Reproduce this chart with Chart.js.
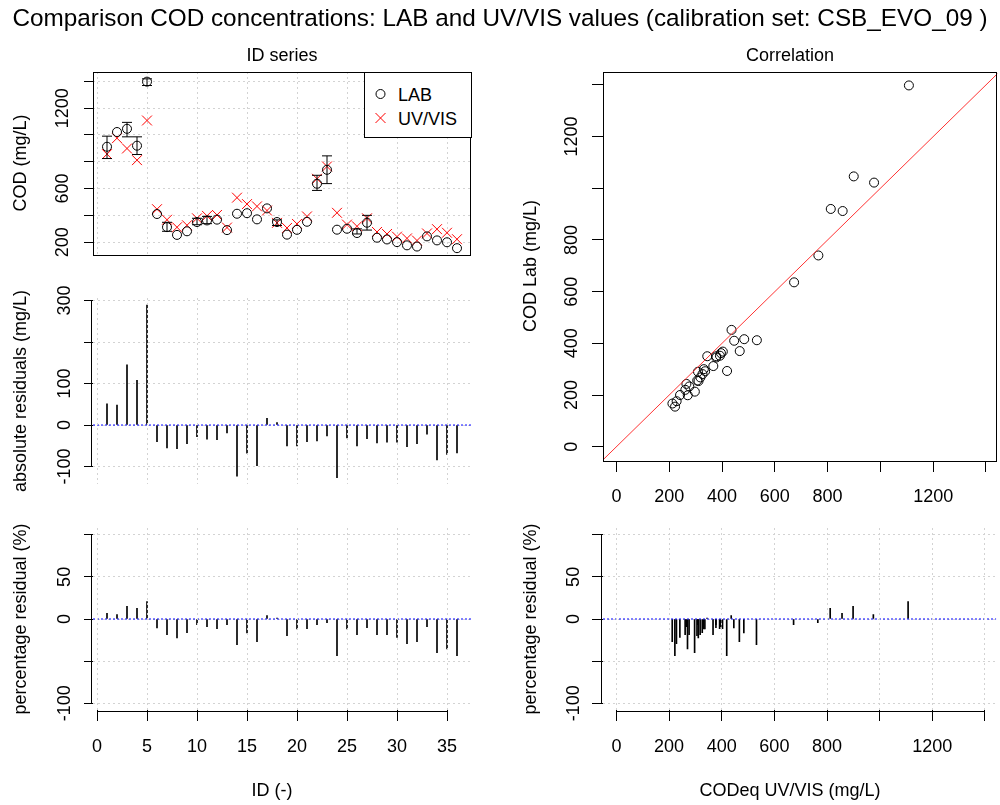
<!DOCTYPE html>
<html><head><meta charset="utf-8">
<script src="https://cdn.jsdelivr.net/npm/chart.js@4.4.1/dist/chart.umd.min.js"></script>
<style>
html,body{margin:0;padding:0;background:#fff;}
#wrap{position:relative;width:1000px;height:805px;overflow:hidden;font-family:"Liberation Sans",Arial,sans-serif;background:#fff;}
canvas{position:absolute;left:0;top:0;}
.t{position:absolute;white-space:nowrap;color:#000;font-size:18px;line-height:1;transform:translate(-50%,-50%);}
.r{transform:translate(-50%,-50%) rotate(-90deg);}
#legend{position:absolute;left:364px;top:72px;width:106px;height:64px;border:1px solid #000;background:#fff;box-sizing:content-box;}
#legend svg{position:absolute;left:0;top:0;}
#legend .lt{position:absolute;left:33px;font-size:18px;line-height:1;transform:translateY(-50%);white-space:nowrap;color:#000;}
</style></head><body>
<div id="wrap">
<canvas id="cA" width="1000" height="805"></canvas>
<canvas id="cB" width="1000" height="805"></canvas>
<canvas id="cC" width="1000" height="805"></canvas>
<canvas id="cD" width="1000" height="805"></canvas>
<canvas id="cE" width="1000" height="805"></canvas>
<div id="legend">
  <svg width="106" height="64" xmlns="http://www.w3.org/2000/svg">
    <circle cx="15.5" cy="21" r="4.5" fill="none" stroke="#000" stroke-width="1"/>
    <line x1="10.5" y1="40" x2="20.5" y2="50" stroke="#ff0000" stroke-width="1"/>
    <line x1="10.5" y1="50" x2="20.5" y2="40" stroke="#ff0000" stroke-width="1"/>
  </svg>
  <span class="lt" style="top:22px;">LAB</span>
  <span class="lt" style="top:46px;">UV/VIS</span>
</div>
<div class="t" style="left:500px;top:18px;font-size:24.3px;">Comparison COD concentrations: LAB and UV/VIS values (calibration set: CSB_EVO_09 )</div>
<div class="t" style="left:282px;top:55px;">ID series</div>
<div class="t" style="left:790px;top:55px;">Correlation</div>
<div class="t r" style="left:20px;top:163px;">COD (mg/L)</div>
<div class="t r" style="left:20px;top:391px;">absolute residuals (mg/L)</div>
<div class="t r" style="left:20px;top:619px;">percentage residual (%)</div>
<div class="t r" style="left:530px;top:266px;">COD Lab (mg/L)</div>
<div class="t r" style="left:530px;top:619px;">percentage residual (%)</div>
<div class="t" style="left:272px;top:790px;">ID (-)</div>
<div class="t" style="left:790px;top:790px;">CODeq UV/VIS (mg/L)</div>
</div>
<script>
// ---------------- data ----------------
const ids = [1,2,3,4,5,6,7,8,9,10,11,12,13,14,15,16,17,18,19,20,21,22,23,24,25,26,27,28,29,30,31,32,33,34,35,36];
const labValues = [912,1022,1046,920,1398,410,312,254,281,350,362,368,290,412,416,370,452,350,256,292,352,636,740,293,300,268,345,233,220,200,176,167,243,213,199,155];
const uvValues  = [857,976,899,812,1108,446,367,311,326,378,396,403,309,532,484,467,436,344,306,336,392,673,765,419,331,318,378,276,261,241,228,212,265,297,270,222];
const errIds  = [1,3,4,5,7,10,11,18,22,23,26,27];
const errLow  = [824,986,854,1369,281,330,338,324,586,637,261,290];
const errHigh = [991,1094,986,1419,348,378,392,366,699,844,299,400];
const absResiduals = [51,48,145,108,289,-40,-55,-57,-45,-28,-34,-35,-19,-123,-68,-98,16,6,-50,-50,-40,-38,-26,-127,-31,-50,-33,-43,-41,-41,-52,-45,-22,-84,-71,-67];
const pctResiduals = [6.7,5.1,15,12.7,20.6,-10.7,-18.6,-22.6,-16.2,-6.7,-9.1,-11.5,-6.7,-30.5,-16.6,-26.9,4,1.2,-19.8,-11.9,-11.5,-6.7,-4.4,-43.5,-11.9,-18.6,-10.3,-18.6,-18.6,-21.8,-29.3,-26.9,-9.1,-40,-35.6,-43.5];

const idTicks = [0,5,10,15,20,25,30,35];
const codTicks = [200,400,600,800,1000,1200,1400];
const codTickLabels = [200,600,1200];
const absTicks = [-100,0,100,200,300];
const absTickLabels = [-100,0,100,300];
const pctTicks = [-100,-50,0,50,100];
const pctTickLabels = [-100,0,50];
const corrTicks = [0,200,400,600,800,1000,1200,1400];
const corrTickLabels = [0,200,400,600,800,1200];

// axis limits
const idMin = -0.4, idMax = 37.4;
const codMin = 104, codMax = 1470;
const absMin = -142, absMax = 306;
const pctMin = -108, pctMax = 108;
const corrXMin = -51, corrXMax = 1443;
const corrYMin = -55.4, corrYMax = 1450;

// ---------------- helpers ----------------
const FONT = '"Liberation Sans", Arial, sans-serif';
Chart.defaults.font.family = FONT;
Chart.defaults.font.size = 18;
Chart.defaults.color = '#000';
Chart.defaults.animation = false;

const GRID = '#d3d3d3';
const LAB_COLOR = '#000000';
const UV_COLOR = '#ff0000';

function yAxis(min, max, ticks, labels, opt) {
  return {
    type: 'linear', position: 'left', min, max, offset: false,
    afterBuildTicks: s => { s.ticks = ticks.map(v => ({value: v})); },
    afterFit: s => { s.width = 60; },
    ticks: {
      autoSkip: false, minRotation: 90, maxRotation: 90, crossAlign: 'center',
      padding: opt.pad, color: '#000', font: {family: FONT, size: 18},
      callback: v => labels.includes(v) ? String(v) : ''
    },
    grid: {display: true, drawOnChartArea: opt.grid, color: GRID, lineWidth: 1,
           drawTicks: true, tickLength: opt.tl, tickColor: '#000', tickWidth: 1, offset: false},
    border: {display: false, dash: [2, 3]}
  };
}
function xAxis(min, max, ticks, labels, opt) {
  return {
    type: 'linear', position: 'bottom', min, max, offset: false,
    afterBuildTicks: s => { s.ticks = ticks.map(v => ({value: v})); },
    afterFit: s => { s.height = opt.h; },
    ticks: {
      display: opt.labels, autoSkip: false, minRotation: 0, maxRotation: 0,
      padding: opt.pad || 0, color: '#000', font: {family: FONT, size: 18},
      callback: v => labels.includes(v) ? String(v) : ''
    },
    grid: {display: true, drawOnChartArea: opt.grid, color: GRID, lineWidth: 1, z: opt.gz || -1,
           drawTicks: opt.ticks, tickLength: opt.tl || 0, tickColor: '#000', tickWidth: 1, offset: false},
    border: {display: false, dash: [2, 3]}
  };
}

const rAxisPlugin = {
  id: 'raxis',
  afterDraw(chart, args, opts) {
    const ctx = chart.ctx, ca = chart.chartArea;
    ctx.save();
    ctx.strokeStyle = '#000'; ctx.lineWidth = 1; ctx.setLineDash([]);
    if (opts.box === true) {
      ctx.strokeRect(Math.round(ca.left) + 0.5, Math.round(ca.top) + 0.5,
                     Math.round(ca.right - ca.left) - 1, Math.round(ca.bottom - ca.top));
    }
    (opts.axes || []).forEach(id => {
      const s = chart.scales[id];
      const t = s.ticks;
      const p0 = s.getPixelForValue(t[0].value), p1 = s.getPixelForValue(t[t.length - 1].value);
      ctx.beginPath();
      if (s.isHorizontal()) {
        const y = Math.round(ca.bottom) + 1.5;
        ctx.moveTo(p0, y); ctx.lineTo(p1, y);
      } else {
        const x = Math.round(ca.left) - 1.5;
        ctx.moveTo(x, p0); ctx.lineTo(x, p1);
      }
      ctx.stroke();
    });
    ctx.restore();
  }
};

const baseOpts = (padding) => ({
  responsive: false, animation: false, events: [],
  layout: {padding, autoPadding: false},
  plugins: {legend: {display: false}, tooltip: {enabled: false}, title: {display: false}}
});

// ---------------- panel A: ID series ----------------
const capHalf = 0.5;
const errSegs = [];
errIds.forEach((id, i) => {
  errSegs.push({x: id, y: errLow[i]}, {x: id, y: errHigh[i]}, {x: id, y: null},
    {x: id - capHalf, y: errLow[i]}, {x: id + capHalf, y: errLow[i]}, {x: id, y: null},
    {x: id - capHalf, y: errHigh[i]}, {x: id + capHalf, y: errHigh[i]}, {x: id, y: null});
});
{
  const o = baseOpts({left: 33, right: 529, top: 72, bottom: 550});
  o.scales = {
    x: xAxis(idMin, idMax, idTicks, [], {h: 0, labels: false, grid: true, ticks: false}),
    y: yAxis(codMin, codMax, codTicks, codTickLabels, {pad: 1, tl: 9, grid: true})
  };
  o.plugins.raxis = {box: true, axes: []};
  new Chart(document.getElementById('cA'), {
    type: 'scatter',
    data: {datasets: [
      {type: 'line', data: errSegs, borderColor: '#000', borderWidth: 1, pointRadius: 0, spanGaps: false, fill: false, tension: 0},
      {label: 'LAB', data: ids.map((id, i) => ({x: id, y: labValues[i]})), pointStyle: 'circle', pointRadius: 4.5,
       borderColor: LAB_COLOR, pointBorderColor: LAB_COLOR, backgroundColor: 'rgba(0,0,0,0)', pointBackgroundColor: 'rgba(0,0,0,0)', pointBorderWidth: 1, showLine: false},
      {label: 'UV/VIS', data: ids.map((id, i) => ({x: id, y: uvValues[i]})), pointStyle: 'crossRot', pointRadius: 7,
       borderColor: UV_COLOR, pointBorderColor: UV_COLOR, pointBorderWidth: 1, showLine: false}
    ]},
    options: o,
    plugins: [rAxisPlugin]
  });
}

// ---------------- panel B: absolute residuals ----------------
{
  const o = baseOpts({left: 33, right: 529, top: 298, bottom: 321});
  o.scales = {
    x: xAxis(idMin, idMax, idTicks, [], {h: 0, labels: false, grid: true, ticks: false, gz: 1}),
    y: yAxis(absMin, absMax, absTicks, absTickLabels, {pad: 1, tl: 9, grid: true})
  };
  o.plugins.raxis = {box: false, axes: ['y']};
  new Chart(document.getElementById('cB'), {
    type: 'scatter',
    data: {datasets: [
      {type: 'line', data: [{x: idMin, y: 0}, {x: idMax, y: 0}], borderColor: '#0000ff', borderWidth: 1, borderDash: [2, 2], pointRadius: 0},
      {type: 'bar', data: ids.map((id, i) => ({x: id, y: absResiduals[i]})), backgroundColor: '#000', barThickness: 1, borderWidth: 0}
    ]},
    options: o,
    plugins: [rAxisPlugin]
  });
}

// ---------------- panel C: percentage residuals vs ID ----------------
{
  const o = baseOpts({left: 33, right: 529, top: 528, bottom: 35});
  o.scales = {
    x: xAxis(idMin, idMax, idTicks, idTicks, {h: 60, labels: true, grid: true, ticks: true, tl: 11, pad: 15, gz: 1}),
    y: yAxis(pctMin, pctMax, pctTicks, pctTickLabels, {pad: 1, tl: 9, grid: true})
  };
  o.plugins.raxis = {box: false, axes: ['x', 'y']};
  new Chart(document.getElementById('cC'), {
    type: 'scatter',
    data: {datasets: [
      {type: 'line', data: [{x: idMin, y: 0}, {x: idMax, y: 0}], borderColor: '#0000ff', borderWidth: 1, borderDash: [2, 2], pointRadius: 0},
      {type: 'bar', data: ids.map((id, i) => ({x: id, y: pctResiduals[i]})), backgroundColor: '#000', barThickness: 1, borderWidth: 0}
    ]},
    options: o,
    plugins: [rAxisPlugin]
  });
}

// ---------------- panel D: correlation ----------------
{
  const o = baseOpts({left: 543, right: 1, top: 72, bottom: 294});
  o.scales = {
    x: xAxis(corrXMin, corrXMax, corrTicks, corrTickLabels, {h: 50, labels: true, grid: false, ticks: true, tl: 11, pad: 14}),
    y: yAxis(corrYMin, corrYMax, corrTicks, corrTickLabels, {pad: 0, tl: 11, grid: false})
  };
  o.plugins.raxis = {box: true, axes: []};
  new Chart(document.getElementById('cD'), {
    type: 'scatter',
    data: {datasets: [
      {type: 'line', data: [{x: corrYMin - 10, y: corrYMin - 10}, {x: corrYMax + 10, y: corrYMax + 10}], borderColor: '#ff3333', borderWidth: 1, pointRadius: 0},
      {data: ids.map((id, i) => ({x: uvValues[i], y: labValues[i]})), pointStyle: 'circle', pointRadius: 4.5,
       borderColor: '#000', pointBorderColor: '#000', backgroundColor: 'rgba(0,0,0,0)', pointBackgroundColor: 'rgba(0,0,0,0)', pointBorderWidth: 1, showLine: false}
    ]},
    options: o,
    plugins: [rAxisPlugin]
  });
}

// ---------------- panel E: percentage residuals vs UV/VIS ----------------
{
  const o = baseOpts({left: 543, right: 1, top: 528, bottom: 35});
  o.scales = {
    x: xAxis(corrXMin, corrXMax, corrTicks, corrTickLabels, {h: 60, labels: true, grid: true, ticks: true, tl: 11, pad: 15, gz: 1}),
    y: yAxis(pctMin, pctMax, pctTicks, pctTickLabels, {pad: 0, tl: 11, grid: true})
  };
  o.plugins.raxis = {box: false, axes: ['x', 'y']};
  new Chart(document.getElementById('cE'), {
    type: 'scatter',
    data: {datasets: [
      {type: 'line', data: [{x: corrXMin, y: 0}, {x: corrXMax, y: 0}], borderColor: '#0000ff', borderWidth: 1, borderDash: [2, 2], pointRadius: 0},
      {type: 'bar', data: ids.map((id, i) => ({x: uvValues[i], y: pctResiduals[i]})), backgroundColor: '#000', barThickness: 1, borderWidth: 0}
    ]},
    options: o,
    plugins: [rAxisPlugin]
  });
}
</script>
</body></html>
